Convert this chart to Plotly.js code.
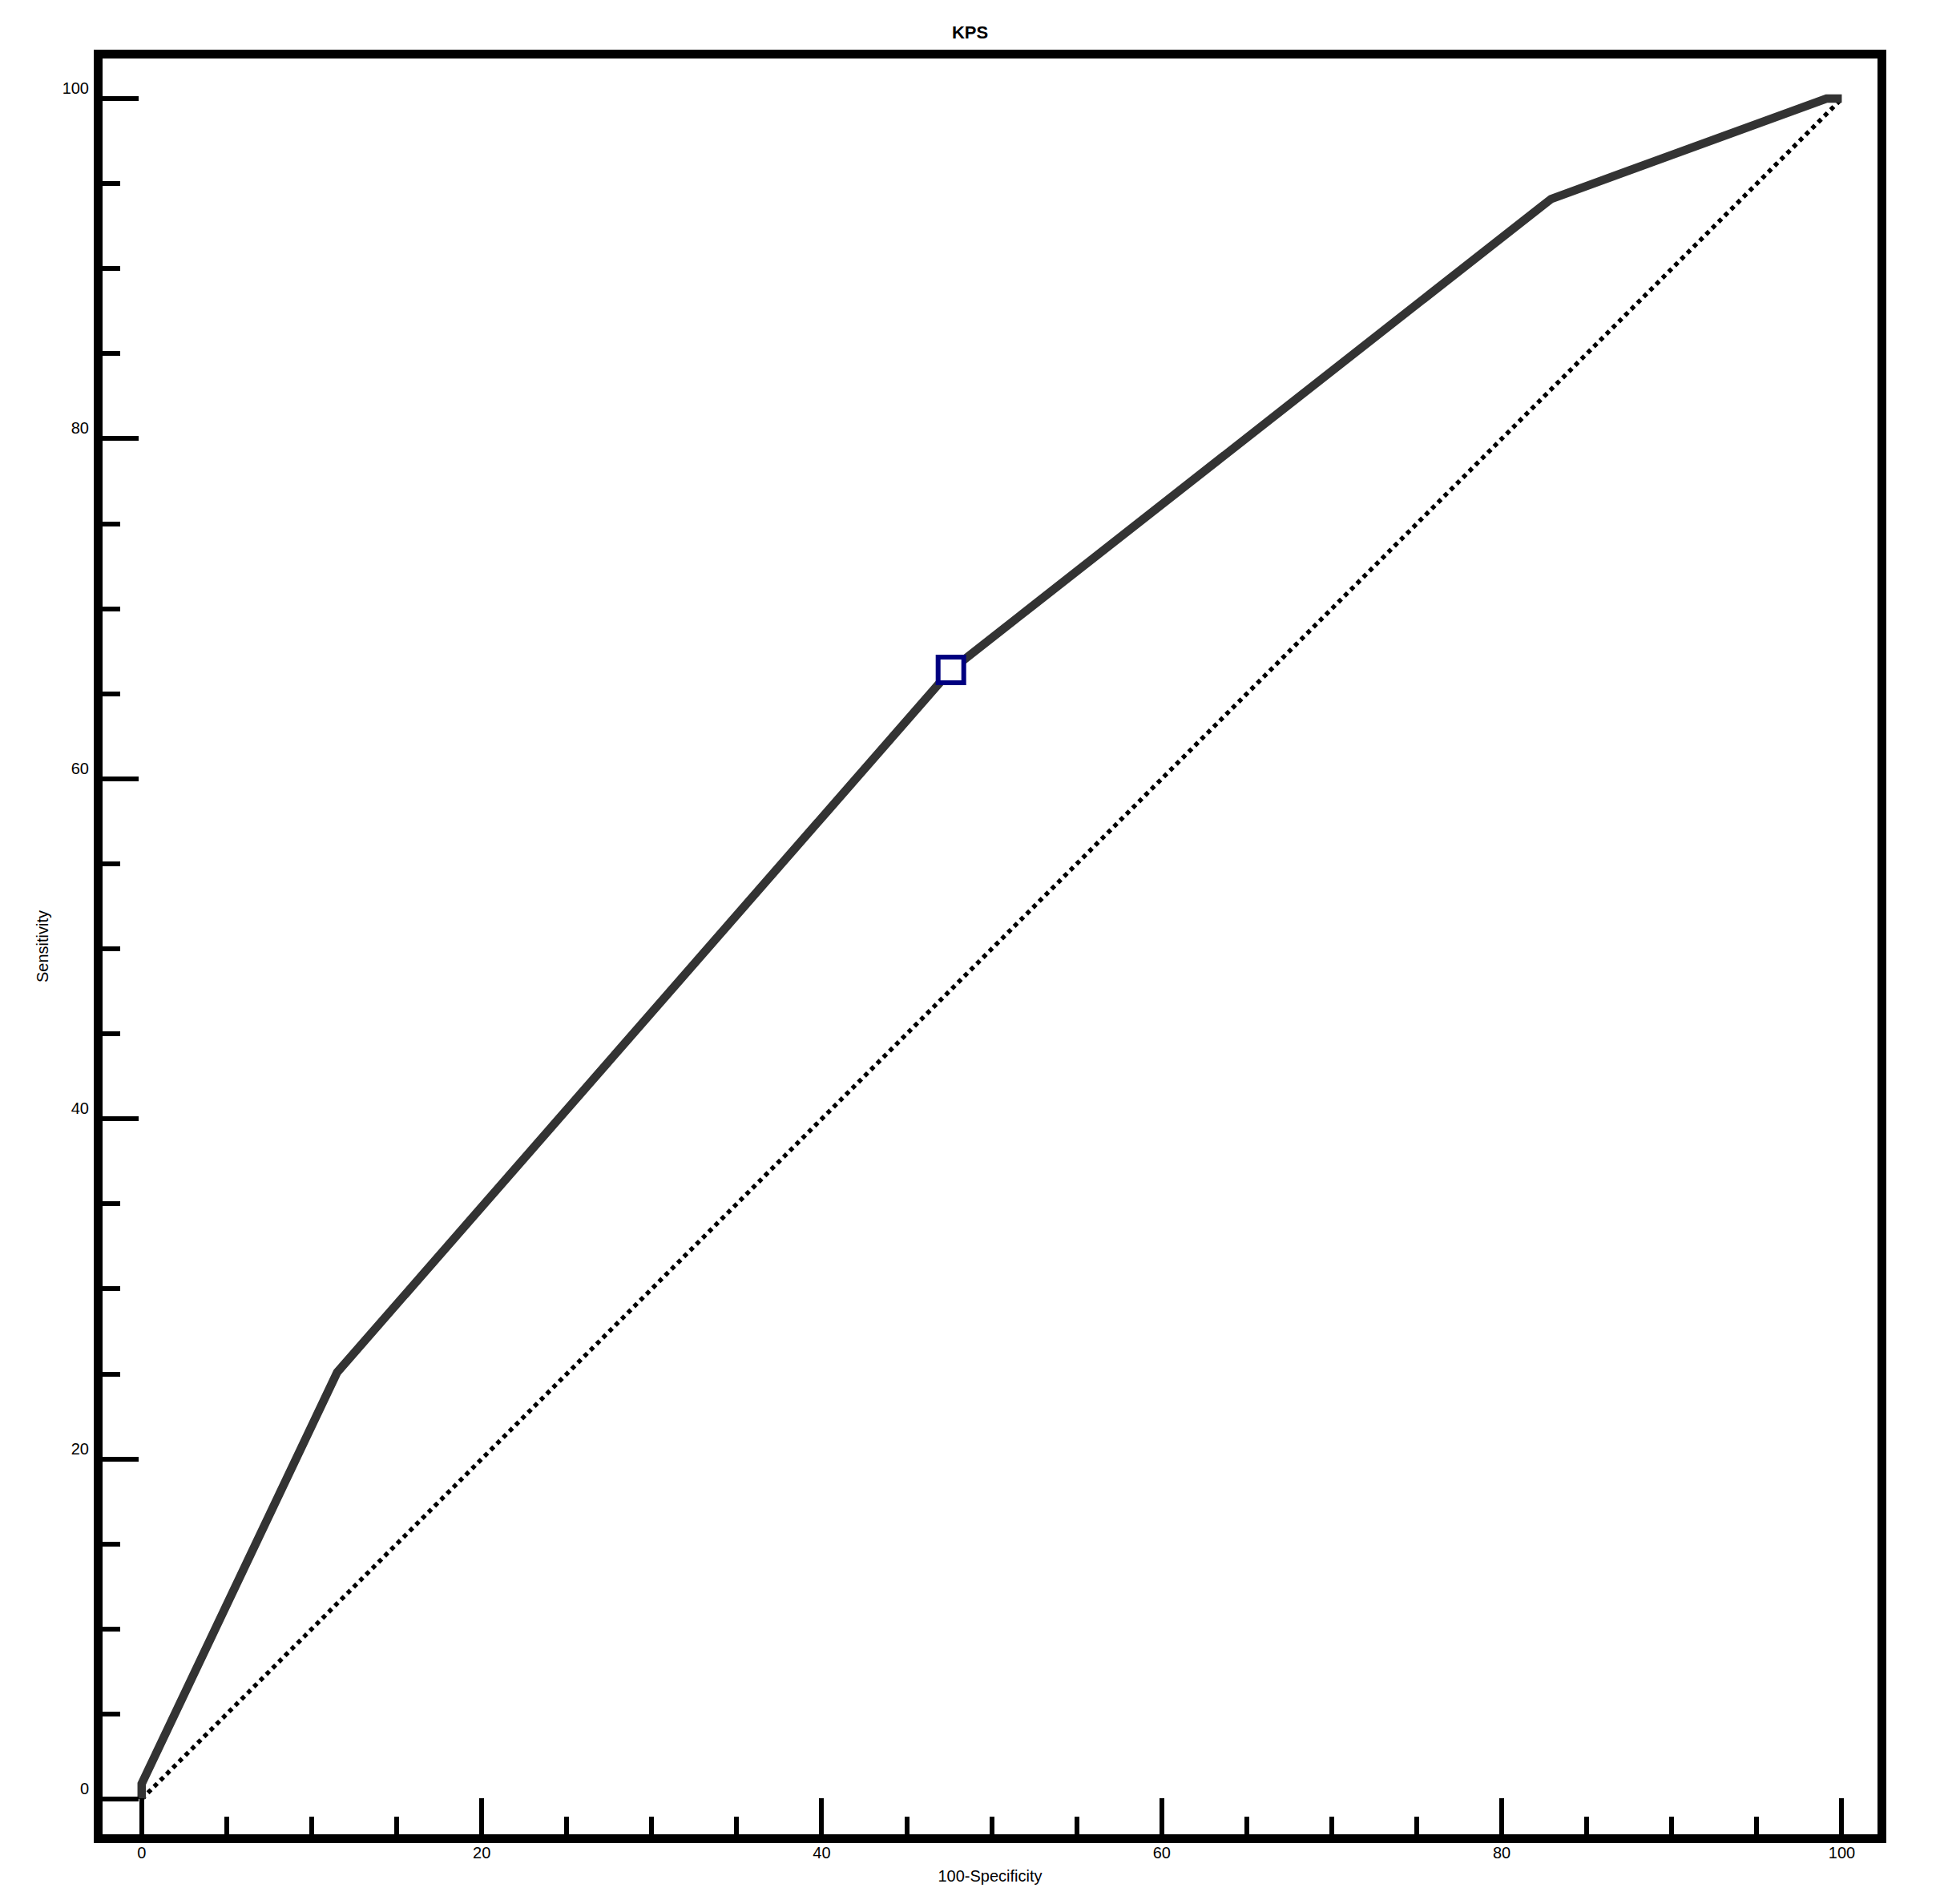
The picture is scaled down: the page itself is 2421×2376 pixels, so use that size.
<!DOCTYPE html>
<html>
<head>
<meta charset="utf-8">
<script src="https://cdn.plot.ly/plotly-3.0.1.min.js"></script>
<style>
  body { margin: 0; background: #fff; }
  #chart { width: 2421px; height: 2376px; }
</style>
</head>
<body>
<div id="chart"></div>
<script>
// ROC curve for KPS
var rocX = [0, 0, 11.5, 47.6, 82.9, 99.1, 100];
var rocY = [0, 0.9, 25.1, 66.4, 94.1, 100, 100];

// the chance line
var diagX = [0, 100];
var diagY = [0, 100];

// the criterion point marked with a square
var critX = [47.6];
var critY = [66.4];

var majorTicks = [0, 20, 40, 60, 80, 100];

var font = "Liberation Sans, Arial, sans-serif";

var traces = [
  {
    x: diagX, y: diagY,
    mode: "lines", type: "scatter",
    line: { color: "#000000", width: 5.5, dash: "5.5px,5.5px" },
    hoverinfo: "skip"
  },
  {
    x: rocX, y: rocY,
    mode: "lines", type: "scatter",
    line: { color: "#333333", width: 10.5 },
    hoverinfo: "skip"
  },
  {
    x: critX, y: critY,
    mode: "markers", type: "scatter",
    marker: { symbol: "square", size: 32, color: "#ffffff", line: { color: "#000080", width: 6 } },
    hoverinfo: "skip"
  }
];

// axis settings shared by both axes
function axis(range) {
  return {
    range: range,
    showgrid: false,
    zeroline: false,
    showline: true,
    mirror: true,
    linecolor: "#000000",
    linewidth: 11,
    ticks: "inside",
    tickvals: majorTicks,
    ticklen: 45,
    tickwidth: 6,
    tickcolor: "#000000",
    minor: { dtick: 5, ticks: "inside", ticklen: 22, tickwidth: 6, tickcolor: "#000000" },
    tickfont: { family: font, size: 20, color: "#000000" }
  };
}

var xaxis = axis([-2.3, 102.1]);
xaxis.title = { text: "100-Specificity", font: { family: font, size: 20, color: "#000" }, standoff: 16 };
xaxis.ticklabelstandoff = -5;

var yaxis = axis([-2.07, 102.36]);
yaxis.title = { text: "Sensitivity", font: { family: font, size: 20, color: "#000" }, standoff: 16 };
yaxis.ticklabelshift = -13;
yaxis.ticklabelstandoff = 2;

var layout = {
  width: 2421,
  height: 2376,
  margin: { l: 128, r: 78, t: 73, b: 87 },
  paper_bgcolor: "#ffffff",
  plot_bgcolor: "#ffffff",
  showlegend: false,
  title: { text: "<b>KPS</b>", font: { family: font, size: 22, color: "#000" }, x: 0.5, xanchor: "center", y: 0.983, yanchor: "middle" },
  xaxis: xaxis,
  yaxis: yaxis
};

Plotly.newPlot("chart", traces, layout, { staticPlot: true });
</script>
</body>
</html>
